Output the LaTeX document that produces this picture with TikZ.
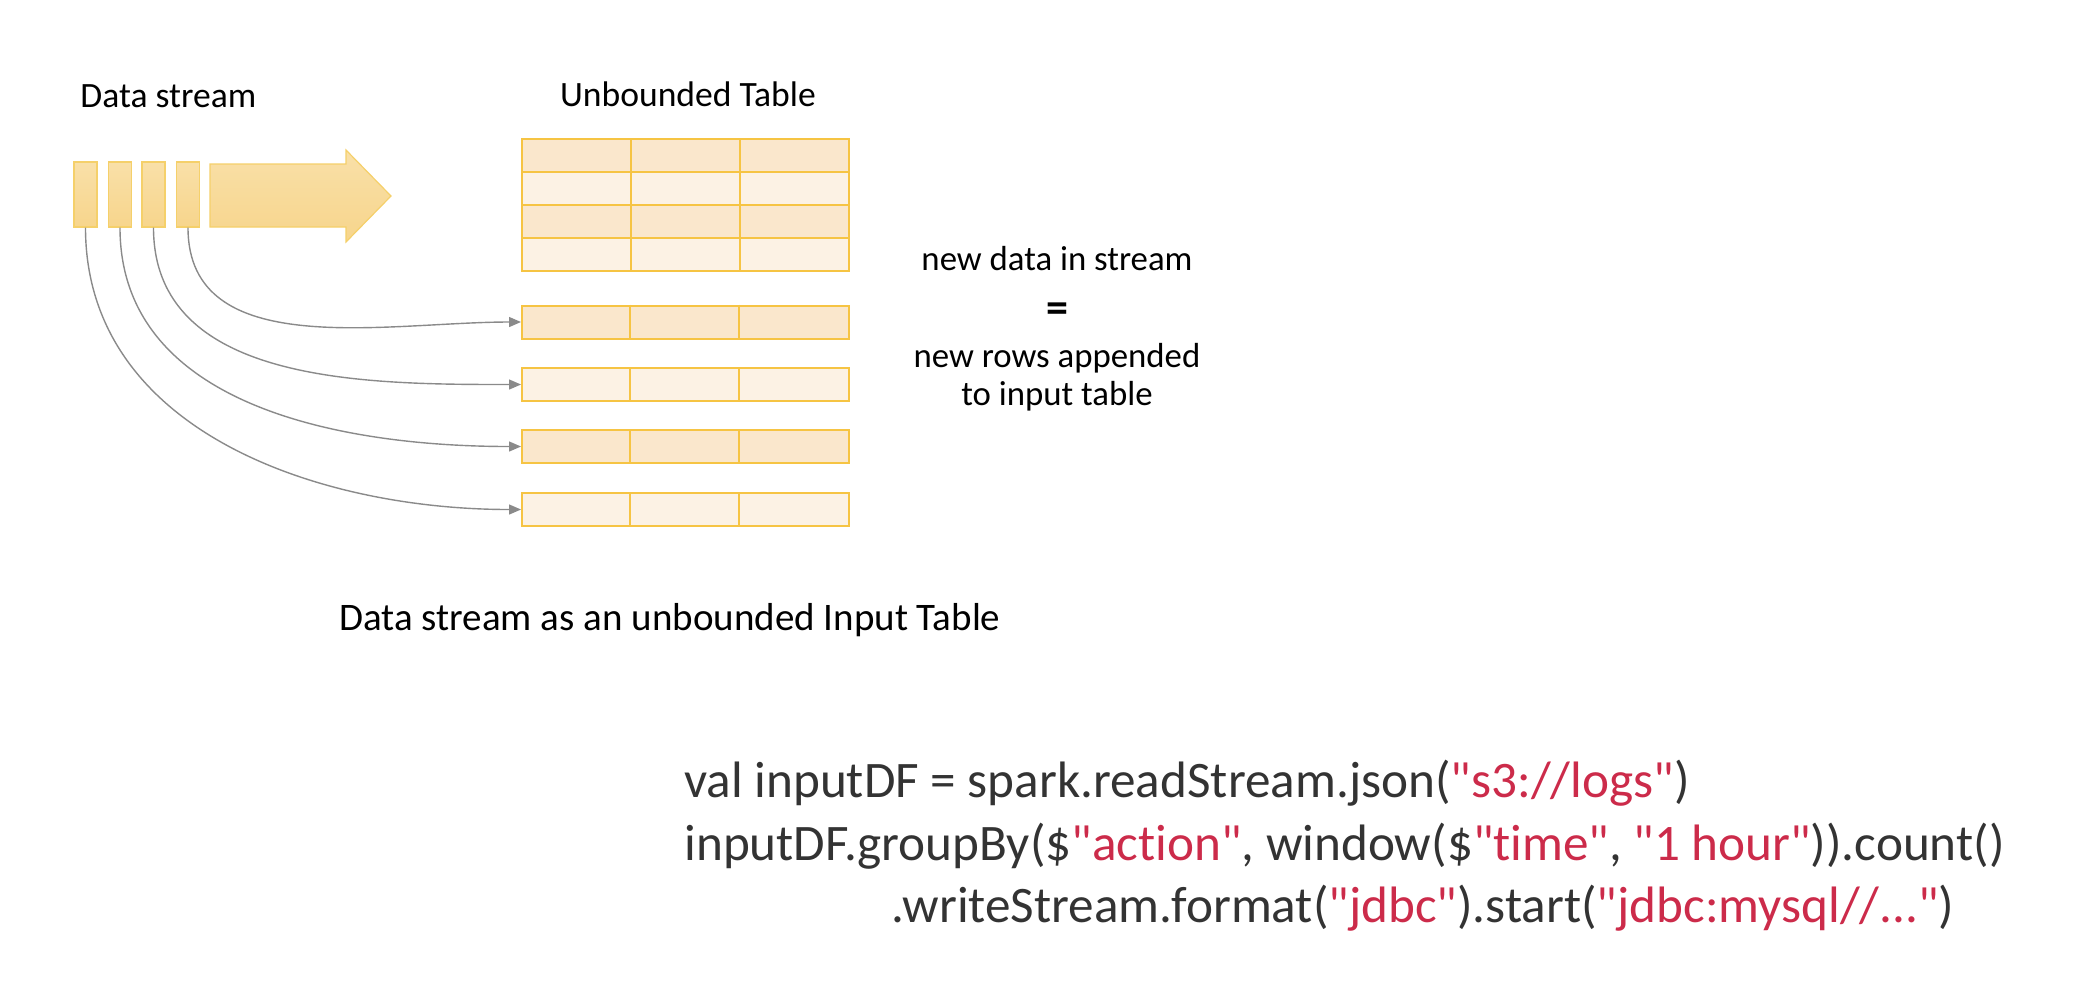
\documentclass[tikz,border=0pt]{standalone}
\usepackage{fontspec}
\setmainfont{Carlito}
\newfontfamily\codefont{Carlito}[Ligatures=NoCommon]
\usetikzlibrary{arrows.meta}
\definecolor{blktop}{HTML}{F9E0A8}
\definecolor{blkbot}{HTML}{F7D58C}
\definecolor{blkline}{HTML}{F5D06A}
\definecolor{rowdark}{HTML}{FAE7CC}
\definecolor{rowlight}{HTML}{FCF2E4}
\definecolor{rowline}{HTML}{F6C443}
\definecolor{conn}{HTML}{8A8A8A}
\definecolor{codegray}{HTML}{333333}
\definecolor{codered}{HTML}{CC2B4A}
\tikzset{
  streamblock/.style={draw=blkline, line width=0.6pt, top color=blktop, bottom color=blkbot,
    minimum width=11.5pt, minimum height=32.5pt, inner sep=0pt},
  rowbox/.style={draw=rowline, line width=1pt, minimum width=163.5pt, minimum height=16.5pt, inner sep=0pt},
  darkrow/.style={rowbox, fill=rowdark},
  lightrow/.style={rowbox, fill=rowlight},
  conn/.style={draw=conn, line width=0.7pt, -{Triangle[length=6pt,width=5pt]}},
  label/.style={font=\fontsize{17.8}{20}\selectfont, text=black, inner sep=0pt},
  code/.style={font=\codefont\fontsize{25.6}{28}\selectfont, text=codegray, inner sep=0pt, anchor=base west},
}
\newcommand{\str}[1]{\textcolor{codered}{#1}}
\begin{document}
\begin{tikzpicture}[x=0.5pt,y=-0.5pt]
\useasboundingbox (0,0) rectangle (2092,982);
% titles
\node[label, anchor=base west] (tds) at (80,107) {Data stream};
\node[label, anchor=base] (tut) at (688,106) {Unbounded Table};
% stream blocks
\node[streamblock] (b1) at (85.5,194.5) {};
\node[streamblock] (b2) at (120,194.5) {};
\node[streamblock] (b3) at (153.5,194.5) {};
\node[streamblock] (b4) at (188,194.5) {};
% big arrow
\draw[draw=blkline, line width=0.6pt, top color=blktop, bottom color=blkbot]
  (210,164) -- (346,164) -- (346,150) -- (391,196) -- (346,242) -- (346,227) -- (210,227) -- cycle;
% unbounded table
\node[rowbox, minimum height=66pt] (tbl) at (685.5,205) {};
\fill[rowdark] (522,139) rectangle (849,172);
\fill[rowlight] (522,172) rectangle (849,205);
\fill[rowdark] (522,205) rectangle (849,238);
\fill[rowlight] (522,238) rectangle (849,271);
\draw[rowline, line width=1pt] (522,139) rectangle (849,271);
\foreach \yy in {172,205,238} \draw[rowline, line width=1pt] (522,\yy) -- (849,\yy);
\foreach \xx in {631,740} \draw[rowline, line width=1pt] (\xx,139) -- (\xx,271);
% new rows
\node[darkrow] (r1) at (685.5,322) {};
\node[lightrow] (r2) at (685.5,384.5) {};
\node[darkrow] (r3) at (685.5,446.5) {};
\node[lightrow] (r4) at (685.5,509.5) {};
\foreach \r in {r1,r2,r3,r4} {
  \draw[rowline, line width=1pt] ([xshift=54.5pt]\r.north west) -- ([xshift=54.5pt]\r.south west);
  \draw[rowline, line width=1pt] ([xshift=109pt]\r.north west) -- ([xshift=109pt]\r.south west);
}
% connectors
\draw[conn] (b4.south) to[out=-90, in=180] (r1.west);
\draw[conn] (b3.south) to[out=-90, in=180] (r2.west);
\draw[conn] (b2.south) to[out=-90, in=180] (r3.west);
\draw[conn] (b1.south) to[out=-90, in=180] (r4.west);
% explanation
\node[label, anchor=base, font=\fontsize{17.4}{20}\selectfont] (t1) at (1057,270) {new data in stream};
\node[label, anchor=base, font=\fontsize{22}{22}\selectfont\bfseries] (teq) at (1057,322) {=};
\node[label, anchor=base, font=\fontsize{17.4}{20}\selectfont] (t2) at (1057,367) {new rows appended};
\node[label, anchor=base, font=\fontsize{17.4}{20}\selectfont] (t3) at (1057,405) {to input table};
% caption
\node[label, anchor=base, font=\fontsize{19.5}{22}\selectfont] (cap) at (670,630) {Data stream as an unbounded Input Table};
% code
\node[code] (c1) at (684,797) {val inputDF = spark.readStream.json(\str{"s3://logs"})};
\node[code] (c2) at (684,860) {inputDF.groupBy(\$\str{"action"}, window(\$\str{"time"}, \str{"1 hour"})).count()};
\node[code] (c3) at (891,922) {.writeStream.format(\str{"jdbc"}).start(\str{"jdbc:mysql//..."})};
\end{tikzpicture}
\end{document}
